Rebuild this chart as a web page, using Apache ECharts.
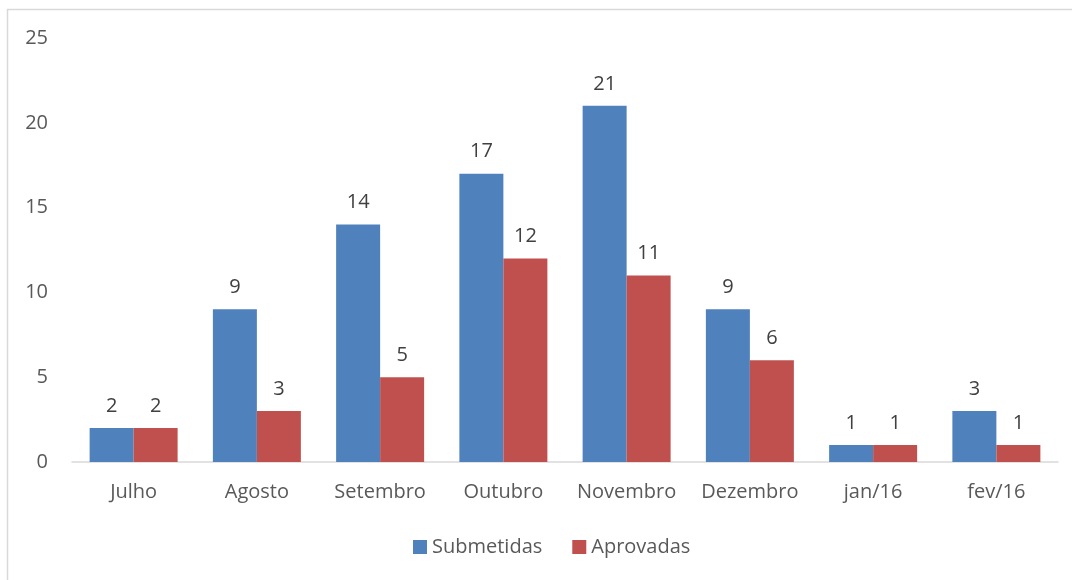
<!DOCTYPE html>
<html><head><meta charset="utf-8">
<script src="https://cdn.jsdelivr.net/npm/echarts@6/dist/echarts.min.js"></script>
<style>html,body{margin:0;padding:0;background:#fff}#c{width:1072px;height:580px}</style>
</head><body><div id="c"></div>
<script>
const categories = ['Julho','Agosto','Setembro','Outubro','Novembro','Dezembro','jan/16','fev/16'];
const submetidas = [2,9,14,17,21,9,1,3];
const aprovadas = [2,3,5,12,11,6,1,1];
const yTicks = [0,5,10,15,20,25];

const font = '"Open Sans", sans-serif';
const chart = echarts.init(document.getElementById('c'));
chart.setOption({
  animation:false,
  textStyle:{fontFamily:font},
  graphic:[{type:'rect',shape:{x:7.5,y:9.5,width:1200,height:700},style:{fill:'none',stroke:'#d9d9d9',lineWidth:1.5},silent:true}],
  grid:{left:72,right:14,top:38,bottom:118},
  legend:{bottom:18,left:408,itemWidth:14,itemHeight:14,itemGap:30,itemTextGap:6,icon:'rect',
    textStyle:{fontSize:20,color:'#595959',fontFamily:font},
    data:['Submetidas','Aprovadas']},
  xAxis:{type:'category',data:categories,
    axisLine:{lineStyle:{color:'#d9d9d9',width:1.5}},axisTick:{show:false},
    axisLabel:{fontSize:20,color:'#595959',margin:20,interval:0,fontFamily:font}},
  yAxis:{type:'value',min:0,max:25,interval:5,
    splitLine:{show:false},axisLine:{show:false},axisTick:{show:false},
    axisLabel:{fontSize:20,color:'#595959',margin:24,fontFamily:font,
      formatter:v=>yTicks.includes(v)?String(v):''}},
  series:[
    {name:'Submetidas',type:'bar',data:submetidas,barWidth:44,barGap:'0%',
     itemStyle:{color:'#4F81BD'},
     label:{show:true,position:'top',distance:12,fontSize:20,color:'#404040',fontFamily:font}},
    {name:'Aprovadas',type:'bar',data:aprovadas,barWidth:44,
     itemStyle:{color:'#C0504D'},
     label:{show:true,position:'top',distance:12,fontSize:20,color:'#404040',fontFamily:font}}
  ]
});
</script></body></html>
